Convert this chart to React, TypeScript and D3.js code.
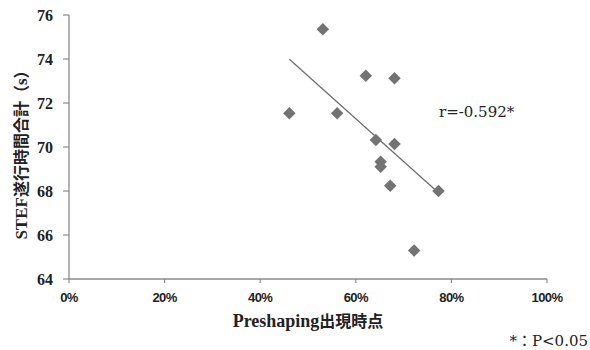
import React from 'react';
import * as d3 from 'd3';

// Preshaping onset (fraction of movement) vs. STEF total time (s)
const preshaping = [0.531, 0.621, 0.681, 0.461, 0.561, 0.642, 0.681, 0.652, 0.652, 0.672, 0.773, 0.722];
const stefTime = [75.35, 73.24, 73.12, 71.53, 71.53, 70.32, 70.14, 69.33, 69.1, 68.24, 68.0, 65.29];

// fitted trend line as printed (endpoints)
const trendX = [0.461, 0.773];
const trendY = [73.99, 67.92];

const xTicks = [0, 0.2, 0.4, 0.6, 0.8, 1.0];
const yTicks = [64, 66, 68, 70, 72, 74, 76];

const W = 590;
const H = 350;
const SERIF = "'Liberation Serif','Noto Sans CJK JP',serif";
const WIDE_SERIF = "'DejaVu Serif','Noto Sans CJK JP',serif";
const CJK = "'Noto Sans CJK JP',sans-serif";
const SANS = "'Liberation Sans',Arial,sans-serif";

export default function App() {
  const x = d3.scaleLinear().domain([0, 1]).range([69, 547]);
  const y = d3.scaleLinear().domain([64, 76]).range([279, 15]);

  const pts = preshaping.map((p, i) => ({ p, t: stefTime[i] }));
  const trend = d3.line<number>()
    .x(d => x(d))
    .y((_, i) => y(trendY[i]));

  const diamond = d3.symbol().type(d3.symbolSquare).size(78)();

  return (
    <svg width={W} height={H} style={{ position: 'absolute', left: 0, top: 0, background: '#fff' }}>
      {/* axes */}
      <line x1={x(0)} x2={x(0)} y1={y(76)} y2={y(64)} stroke="#8a8a8a" strokeWidth={1.3} />
      <line x1={x(0)} x2={x(1)} y1={y(64)} y2={y(64)} stroke="#8a8a8a" strokeWidth={1.3} />

      {yTicks.map(t => (
        <g key={t}>
          <line x1={x(0) - 6} x2={x(0)} y1={y(t)} y2={y(t)} stroke="#8a8a8a" strokeWidth={1.2} />
          <text x={x(0) - 16} y={y(t)} dy="0.36em" textAnchor="end" fontFamily={SERIF}
            fontWeight="bold" fontSize={16} fill="#222">{t}</text>
        </g>
      ))}

      {xTicks.map(t => (
        <g key={t}>
          <line x1={x(t)} x2={x(t)} y1={y(64)} y2={y(64) + 4} stroke="#8a8a8a" strokeWidth={1.2} />
          <text x={x(t)} y={302} textAnchor="middle" fontFamily={SANS}
            fontWeight="bold" fontSize={13} fill="#222" letterSpacing={-0.6}>{d3.format('.0%')(t)}</text>
        </g>
      ))}

      {/* trend line */}
      <path d={trend(trendX) as string} fill="none" stroke="#6a6a6a" strokeWidth={1.2} />

      {pts.map((d, i) => (
        <path key={i} d={diamond as string} fill="#737373"
          transform={`translate(${x(d.p)},${y(d.t)}) rotate(45)`} />
      ))}

      <text x={439} y={117} fontFamily={WIDE_SERIF} fontSize={15} fill="#222">r=-0.592*</text>

      <text x={308} y={327} textAnchor="middle" fontWeight="bold" fill="#222">
        <tspan fontFamily={SERIF} fontSize={18}>Preshaping</tspan>
        <tspan fontFamily={CJK} fontSize={16}>出現時点</tspan>
      </text>
      <text transform="translate(27,151) rotate(-90)" textAnchor="middle" fontWeight="bold" fill="#222">
        <tspan fontFamily={SERIF} fontSize={17}>STEF</tspan>
        <tspan fontFamily={CJK} fontSize={16}>遂行時間合計（</tspan>
        <tspan fontFamily={SERIF} fontSize={17}>s</tspan>
        <tspan fontFamily={CJK} fontSize={16}>）</tspan>
      </text>

      <text x={588} y={346} textAnchor="end" fontFamily={WIDE_SERIF} fontSize={15} fill="#222">*：P&lt;0.05</text>
    </svg>
  );
}
